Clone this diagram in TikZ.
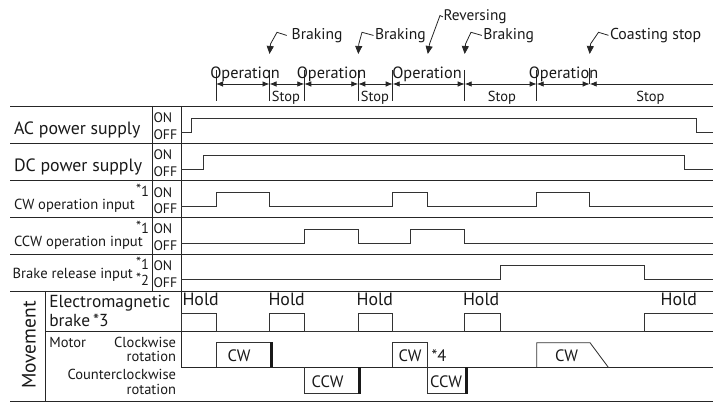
\documentclass[tikz,border=0pt]{standalone}
\usepackage{fontspec}
\setmainfont{PT Sans}
\usetikzlibrary{arrows.meta}
\newcommand\fsz[1]{\fontsize{#1}{#1}\selectfont}
\begin{document}
\begin{tikzpicture}[x=1pt,y=-1pt,
  gridline/.style={line width=0.8pt, draw=black!85},
  sig/.style={line width=0.85pt, draw=black!80},
  brakebar/.style={line width=2.8pt, draw=black!90},
  txt/.style={inner sep=0pt, outer sep=0pt, text=black!90},
  tline/.style={line width=0.8pt, draw=black!85},
  tick/.style={line width=0.8pt, draw=black!85},
  seg/.style={line width=0.8pt, draw=black!85, {Latex[length=7pt,width=5.5pt]}-{Latex[length=7pt,width=5.5pt]}},
  callout/.style={line width=0.8pt, draw=black!85, -{Triangle[length=8pt,width=7pt]}},
]
\useasboundingbox (0,0) rectangle (721,403);

% ---------- table grid ----------
\draw[gridline] (10,106) -- (713,106);
\draw[gridline] (10,143.3) -- (713,143.3);
\draw[gridline] (10,180.5) -- (713,180.5);
\draw[gridline] (10,217.3) -- (713,217.3);
\draw[gridline] (10,254) -- (713,254);
\draw[gridline] (10,291) -- (713,291);
\draw[gridline] (45,331) -- (713,331);
\draw[gridline] (10,401) -- (713,401);
\draw[gridline] (45,291) -- (45,401);
\draw[gridline] (152,106) -- (152,291);
\draw[gridline] (181,106) -- (181,367.3);
\draw[gridline] (181,367.3) -- (713,367.3);

% ---------- left labels ----------
\node[txt, anchor=base west, font=\fsz{17.8}] (ac) at (14,135) {AC power supply};
\node[txt, anchor=base west, font=\fsz{17.8}] (dc) at (14,171.3) {DC power supply};
\node[txt, anchor=base west, font=\fsz{14.6}] (cwin) at (14,210) {CW operation input};
\node[txt, anchor=base east, font=\fsz{14.5}] (cwstar) at (149,196.7) {\raisebox{2pt}{*}1};
\node[txt, anchor=base west, font=\fsz{14.6}] (ccwin) at (14,246.7) {CCW operation input};
\node[txt, anchor=base east, font=\fsz{14.5}] (ccwstar) at (149,233.3) {\raisebox{2pt}{*}1};
\node[txt, anchor=base west, font=\fsz{14.6}] (brin) at (12.7,278.3) {Brake release input};
\node[txt, anchor=base east, font=\fsz{14.5}] (brstara) at (149,270) {\raisebox{2pt}{*}1};
\node[txt, anchor=base east, font=\fsz{14.5}] (brstarb) at (149,286) {\raisebox{2pt}{*}2};

\foreach \r/\t in {1/106,2/143.3,3/180.5,4/217.3,5/254}{
  \node[txt, anchor=base west, font=\fsz{13.8}] (on\r) at (153.5,\t+16.7) {ON};
  \node[txt, anchor=base west, font=\fsz{13.8}] (off\r) at (153.5,\t+33.3) {OFF};
}

\node[txt, rotate=90, font=\fsz{19.5}] (mov) at (29,345) {Movement};
\node[txt, anchor=base west, font=\fsz{17.4}] (em1) at (49.3,307.7) {Electromagnetic};
\node[txt, anchor=base west, font=\fsz{17.4}] (em2) at (49.3,326.7) {brake\,*3};
\node[txt, anchor=base west, font=\fsz{14.5}] (motor) at (49.3,348) {Motor};
\node[txt, anchor=base east, font=\fsz{14.5}] (clk) at (176,348) {Clockwise};
\node[txt, anchor=base east, font=\fsz{14.5}] (rot1) at (176,361.5) {rotation};
\node[txt, anchor=base east, font=\fsz{14.5}] (cclk) at (176,380) {Counterclockwise};
\node[txt, anchor=base east, font=\fsz{14.5}] (rot2) at (176,394.5) {rotation};

% ---------- signals ----------
\draw[sig] (181,132.3) -- (191,132.3) -- (191,118.3) -- (696,118.3) -- (696,132.3) -- (713,132.3);
\draw[sig] (181,169) -- (203,169) -- (203,155) -- (684,155) -- (684,169) -- (713,169);
\draw[sig] (181,206.3) -- (216,206.3) -- (216,192.3) -- (269.5,192.3) -- (269.5,206.3)
  -- (392.7,206.3) -- (392.7,192.3) -- (427.3,192.3) -- (427.3,206.3)
  -- (536.7,206.3) -- (536.7,192.3) -- (589.7,192.3) -- (589.7,206.3) -- (713,206.3);
\draw[sig] (181,243) -- (304.3,243) -- (304.3,229) -- (358.3,229) -- (358.3,243)
  -- (410.7,243) -- (410.7,229) -- (464.7,229) -- (464.7,243) -- (713,243);
\draw[sig] (181,279.3) -- (500.7,279.3) -- (500.7,265.7) -- (644.7,265.7) -- (644.7,279.3) -- (713,279.3);

% electromagnetic brake
\draw[sig] (181,331) -- (181,313.3) -- (216,313.3) -- (216,331) -- (269.5,331) -- (269.5,313.3)
  -- (304.3,313.3) -- (304.3,331) -- (358.3,331) -- (358.3,313.3) -- (392.7,313.3) -- (392.7,331)
  -- (464.7,331) -- (464.7,313.3) -- (500.7,313.3) -- (500.7,331) -- (644.7,331) -- (644.7,313.3) -- (713,313.3);
\foreach \x/\n in {182.5/1,268.5/2,356.7/3,463/4}{
  \node[txt, anchor=base west, font=\fsz{17.8}] (hold\n) at (\x,306) {Hold};
}
\node[txt, anchor=base east, font=\fsz{17.8}] (hold5) at (697,306) {Hold};

% motor
\draw[sig] (216,367.3) -- (216,342.7) -- (272.7,342.7);
\draw[brakebar] (271.3,342.3) -- (271.3,367.3);
\draw[sig] (304.3,367.3) -- (304.3,393.3) -- (361,393.3);
\draw[brakebar] (359.6,367.3) -- (359.6,393.7);
\draw[sig] (392.7,367.3) -- (392.7,342.7) -- (427.3,342.7) -- (427.3,393.3) -- (467.5,393.3);
\draw[brakebar] (466.2,367.3) -- (466.2,393.7);
\draw[sig] (536.7,367.3) -- (536.7,342.7) -- (590,342.7) -- (608.3,367.3);
\node[txt, font=\fsz{16.5}, anchor=base] (cw1) at (239,361.7) {CW};
\node[txt, font=\fsz{16.5}, anchor=base] (cw2) at (410,361.7) {CW};
\node[txt, font=\fsz{16.5}, anchor=base] (cw3) at (566.5,361.7) {CW};
\node[txt, font=\fsz{16.5}, anchor=base] (ccw1) at (327.5,387.3) {CCW};
\node[txt, font=\fsz{16.5}, anchor=base] (ccw2) at (446,387.3) {CCW};
\node[txt, font=\fsz{16.5}, anchor=base west] (n4) at (431.7,362) {*4};

% ---------- timeline ----------
\foreach \x/\n in {216/1,269.5/2,304.3/3,358.3/4,392.7/5,464.7/6,536.7/7}{
  \coordinate (tt\n) at (\x,70);
  \coordinate (tb\n) at (\x,101);
  \coordinate (tm\n) at (\x,84);
  \draw[tick] (tt\n) -- (tb\n);
}
\coordinate (tt8) at (589.7,68);
\coordinate (tb8) at (589.7,84);
\coordinate (tm8) at (589.7,84);
\coordinate (tend) at (713,84);
\draw[tick] (tt8) -- (tb8);
\draw[seg] (tm1) -- (tm2);
\draw[seg] (tm2) -- (tm3);
\draw[seg] (tm3) -- (tm4);
\draw[seg] (tm4) -- (tm5);
\draw[seg] (tm5) -- (tm6);
\draw[seg] (tm6) -- (tm7);
\draw[seg] (tm7) -- (tm8);
\draw[tline, {Latex[length=7pt,width=5.5pt]}-] (tm8) -- (tend);

\node[txt, anchor=base, font=\fsz{16.3}] (op1) at (245,78.3) {Operation};
\node[txt, anchor=base, font=\fsz{16.3}] (op2) at (331.5,78.3) {Operation};
\node[txt, anchor=base, font=\fsz{16.3}] (op3) at (427,78.3) {Operation};
\node[txt, anchor=base, font=\fsz{16.3}] (op4) at (563.5,78.3) {Operation};
\node[txt, anchor=base, font=\fsz{14.5}] (st1) at (286,101.7) {Stop};
\node[txt, anchor=base, font=\fsz{14.5}] (st2) at (375,101.7) {Stop};
\node[txt, anchor=base, font=\fsz{14.5}] (st3) at (502,101.7) {Stop};
\node[txt, anchor=base, font=\fsz{14.5}] (st4) at (650.5,101.7) {Stop};

% ---------- callouts ----------
\node[txt, anchor=base west, font=\fsz{15.6}] (brk1) at (291.7,39.3) {Braking};
\node[txt, anchor=base west, font=\fsz{15.6}] (brk2) at (375,39.3) {Braking};
\node[txt, anchor=base west, font=\fsz{15.3}] (rev) at (443.5,20.7) {Reversing};
\node[txt, anchor=base west, font=\fsz{15.6}] (brk3) at (483.3,39.3) {Braking};
\node[txt, anchor=base west, font=\fsz{15.8}] (coast) at (610,39.3) {Coasting stop};

\draw[callout] (brk1.west) ++(-5,0) -- (277,32.3) -- (270.5,44) -- (269.5,54);
\draw[callout] (brk2.west) ++(-1.5,0) -- (362,32.3) -- (358.8,44) -- (358.3,54);
\draw[callout] (rev.west) ++(-0.5,0) -- (440,15.5) -- (429.5,44) -- (427.8,54);
\draw[callout] (brk3.west) ++(-1.5,0) -- (471,32.3) -- (465.5,44) -- (464.7,54);
\draw[callout] (coast.west) ++(-1.5,0) -- (598.5,32.3) -- (590.5,44) -- (589.7,54);
\end{tikzpicture}
\end{document}
